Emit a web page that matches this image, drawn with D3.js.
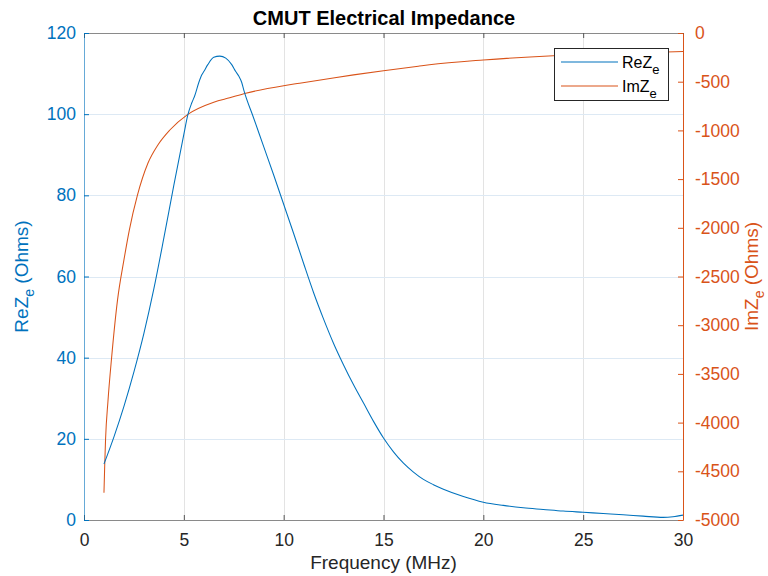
<!DOCTYPE html>
<html>
<head>
<meta charset="utf-8">
<script src="https://cdn.jsdelivr.net/npm/d3@7"></script>
<style>
  body { margin: 0; background: #fff; }
  svg { display: block; font-family: "Liberation Sans", Arial, sans-serif; }
</style>
</head>
<body>
<svg id="chart" width="768" height="576"></svg>
<script>
// ---- Data ----
const freqRe = [1, 1.5, 2, 2.5, 3, 3.5, 4, 4.5, 5, 5.2, 5.4, 5.55, 5.75, 5.9, 6.0, 6.2, 6.5, 6.8, 7.1, 7.4, 7.6, 7.75, 7.9, 8.0, 8.5, 9, 9.5, 10, 10.5, 11, 11.5, 12, 12.5, 13, 13.5, 14, 14.5, 15, 15.5, 16, 16.5, 17, 17.5, 18, 19, 20, 21, 22, 23, 24, 25, 26, 27, 28, 29, 29.5, 30];
const reZ = [13.8, 20.5, 28, 36.5, 46, 57, 69.5, 82.5, 95, 99.8, 102.8, 104.6, 107.8, 109.7, 110.5, 112.2, 114, 114.3, 113.8, 112.2, 110.5, 109.4, 107.8, 106, 99, 92, 85, 77.8, 70.6, 63.2, 56, 49.5, 43.5, 38.2, 33.3, 28.8, 24.3, 20.2, 16.8, 14, 11.8, 10.0, 8.7, 7.6, 5.8, 4.4, 3.6, 3.0, 2.6, 2.2, 1.9, 1.6, 1.3, 0.95, 0.65, 0.8, 1.2];

const freqIm = [1, 1.04, 1.08, 1.2, 1.38, 1.68, 2, 2.27, 2.67, 3.2, 3.7, 4.3, 5.2, 6.5, 7.3, 8.1, 10, 10.8, 12, 13.5, 15, 16.8, 17.3, 20, 23.5, 26.5, 29.6, 30];
const imZ = [-4720, -4420, -4170, -3780, -3340, -2740, -2330, -2023, -1670, -1338, -1150, -996, -835, -710, -665, -619, -541, -516, -478, -430, -387, -339, -326, -277, -233, -210, -192, -190];

const xTicks = [0, 5, 10, 15, 20, 25, 30];
const yLeftTicks = [0, 20, 40, 60, 80, 100, 120];
const yRightTicks = [0, -500, -1000, -1500, -2000, -2500, -3000, -3500, -4000, -4500, -5000];

const titleText = "CMUT Electrical Impedance";
const xLabel = "Frequency (MHz)";
const legendNames = ["ReZ", "ImZ"];

// ---- Layout ----
const L = 84, R = 683, T = 33, B = 520;
const blue = "#0072BD", orange = "#D95319", axisGrey = "#262626";
const svg = d3.select("#chart");

const x = d3.scaleLinear().domain([0, 30]).range([L, R]);
const yL = d3.scaleLinear().domain([0, 120]).range([B, T]);
const yR = d3.scaleLinear().domain([-5000, 0]).range([B, T]);

// grid
const grid = svg.append("g");
grid.selectAll("line.gx").data(xTicks.slice(1, -1)).join("line")
  .attr("x1", d => Math.round(x(d)) + 0.5).attr("x2", d => Math.round(x(d)) + 0.5)
  .attr("y1", T).attr("y2", B)
  .attr("stroke", "#e3e3e3").attr("stroke-width", 1);
grid.selectAll("line.gy").data(yLeftTicks.slice(1, -1)).join("line")
  .attr("x1", L).attr("x2", R)
  .attr("y1", d => Math.round(yL(d)) + 0.5).attr("y2", d => Math.round(yL(d)) + 0.5)
  .attr("stroke", "#dde9f4").attr("stroke-width", 1);

// lines
const clip = svg.append("clipPath").attr("id", "clip").append("rect")
  .attr("x", L).attr("y", T).attr("width", R - L).attr("height", B - T);
const lineRe = d3.line().x((d, i) => x(freqRe[i])).y(d => yL(d)).curve(d3.curveMonotoneX);
const lineIm = d3.line().x((d, i) => x(freqIm[i])).y(d => yR(d)).curve(d3.curveMonotoneX);
svg.append("path").attr("d", lineIm(imZ)).attr("fill", "none")
  .attr("stroke", orange).attr("stroke-width", 1.05).attr("clip-path", "url(#clip)");
svg.append("path").attr("d", lineRe(reZ)).attr("fill", "none")
  .attr("stroke", blue).attr("stroke-width", 1.05).attr("clip-path", "url(#clip)");

// axes
const tickFont = "17.5px";
const gBottom = svg.append("g").attr("transform", `translate(0,${B})`)
  .call(d3.axisBottom(x).tickValues(xTicks).tickSizeInner(-5).tickSizeOuter(0).tickPadding(14));
const gTop = svg.append("g").attr("transform", `translate(0,${T})`)
  .call(d3.axisTop(x).tickValues(xTicks).tickSizeInner(-5).tickSizeOuter(0).tickFormat(""));
[gBottom, gTop].forEach(g => {
  g.select(".domain").attr("stroke", "#8a8a8a");
  g.selectAll(".tick line").attr("stroke", "#555");
  g.selectAll("text").attr("fill", axisGrey).style("font-size", tickFont).style("font-family", "Liberation Sans, Arial, sans-serif");
});

const gLeft = svg.append("g").attr("transform", `translate(${L},0)`)
  .call(d3.axisLeft(yL).tickValues(yLeftTicks).tickSizeInner(-5).tickSizeOuter(0).tickPadding(8));
gLeft.select(".domain").attr("stroke", blue).attr("stroke-opacity", 0.6);
gLeft.selectAll(".tick line").attr("stroke", blue);
gLeft.selectAll("text").attr("fill", blue).style("font-size", tickFont).style("font-family", "Liberation Sans, Arial, sans-serif");

const gRight = svg.append("g").attr("transform", `translate(${R},0)`)
  .call(d3.axisRight(yR).tickValues(yRightTicks).tickSizeInner(-5).tickSizeOuter(0).tickPadding(12)
    .tickFormat(d => d === 0 ? "0" : "-" + Math.abs(d)));
gRight.select(".domain").attr("stroke", orange);
gRight.selectAll(".tick line").attr("stroke", orange);
gRight.selectAll("text").attr("fill", orange).style("font-size", tickFont).style("font-family", "Liberation Sans, Arial, sans-serif");

// title
svg.append("text").attr("x", 384).attr("y", 25).attr("text-anchor", "middle")
  .style("font-size", "20px").style("font-weight", "bold").attr("fill", "#000").text(titleText);

// x label
svg.append("text").attr("x", (L + R) / 2).attr("y", 569).attr("text-anchor", "middle")
  .style("font-size", "19px").attr("fill", axisGrey).text(xLabel);

// y labels with subscripts
function yLabel(cx, cy, main, color) {
  const t = svg.append("text").attr("transform", `translate(${cx},${cy}) rotate(-90)`)
    .attr("text-anchor", "middle").style("font-size", "19px").attr("fill", color);
  t.append("tspan").text(main);
  t.append("tspan").text("e").style("font-size", "14px").attr("dy", 6);
  t.append("tspan").text(" (Ohms)").attr("dy", -6);
}
yLabel(28, (T + B) / 2, "ReZ", blue);
yLabel(758, (T + B) / 2, "ImZ", orange);

// legend
const lg = svg.append("g");
lg.append("rect").attr("x", 554.5).attr("y", 48.5).attr("width", 114).attr("height", 52)
  .attr("fill", "#fff").attr("stroke", axisGrey).attr("stroke-width", 1);
const lgColors = [blue, orange];
legendNames.forEach((name, i) => {
  const yy = 62 + i * 24;
  lg.append("line").attr("x1", 561).attr("x2", 618).attr("y1", yy).attr("y2", yy)
    .attr("stroke", lgColors[i]).attr("stroke-width", 1.05);
  const t = lg.append("text").attr("x", 622).attr("y", yy + 5.5)
    .style("font-size", "16px").attr("fill", "#000");
  t.append("tspan").text(name);
  t.append("tspan").text("e").style("font-size", "13px").attr("dy", 6);
});
</script>
</body>
</html>
